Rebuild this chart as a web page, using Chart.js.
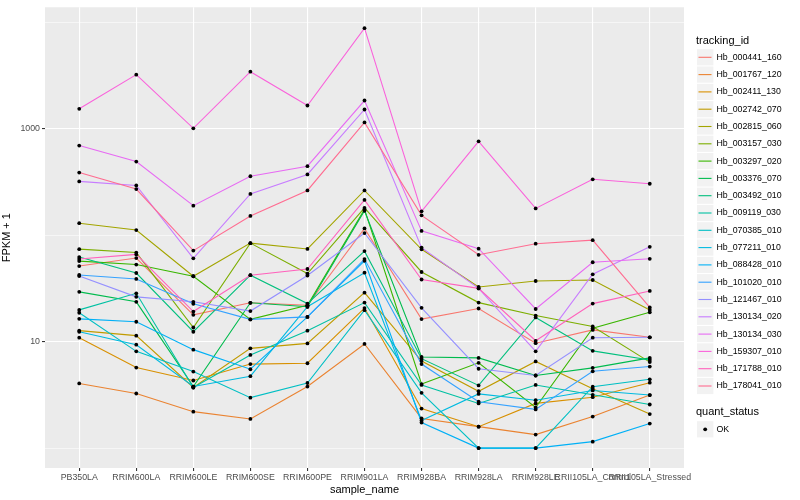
<!DOCTYPE html>
<html>
<head>
<meta charset="utf-8">
<script src="https://cdn.jsdelivr.net/npm/chart.js@4.4.1/dist/chart.umd.min.js"></script>
<style>
  html, body { margin: 0; padding: 0; background: #ffffff; }
  #wrap { width: 800px; height: 500px; }
</style>
</head>
<body>
<div id="wrap"><canvas id="myChart" width="800" height="500"></canvas></div>
<script>
// sample names on the x axis
const samples = ['PB350LA', 'RRIM600LA', 'RRIM600LE', 'RRIM600SE', 'RRIM600PE', 'RRIM901LA',
                 'RRIM928BA', 'RRIM928LA', 'RRIM928LE', 'RRII105LA_Control', 'RRII105LA_Stressed'];

// gene ids and their ggplot hue colours
const trackingIds = ['Hb_000441_160', 'Hb_001767_120', 'Hb_002411_130', 'Hb_002742_070', 'Hb_002815_060',
                     'Hb_003157_030', 'Hb_003297_020', 'Hb_003376_070', 'Hb_003492_010', 'Hb_009119_030',
                     'Hb_070385_010', 'Hb_077211_010', 'Hb_088428_010', 'Hb_101020_010', 'Hb_121467_010',
                     'Hb_130134_020', 'Hb_130134_030', 'Hb_159307_010', 'Hb_171788_010', 'Hb_178041_010'];
const lineColors = ['#F8766D', '#EA8331', '#D89000', '#C09B00', '#A3A500', '#7CAE00', '#39B600', '#00BB4E',
                    '#00BF7D', '#00C1A3', '#00BFC4', '#00BAE0', '#00B0F6', '#35A2FF', '#9590FF', '#C77CFF',
                    '#E76BF3', '#FA62DB', '#FF62BC', '#FF6C91'];

// FPKM + 1 per sample
const hb_000441_160 = [51.4, 61.1, 17.9, 23.2, 22.0, 116, 16.3, 20.5, 9.68, 12.9, 11.0];
const hb_001767_120 = [4.05, 3.26, 2.20, 1.88, 3.79, 9.52, 1.90, 1.59, 1.34, 1.98, 3.15];
const hb_002411_130 = [10.9, 5.71, 4.32, 6.16, 6.27, 20.7, 2.35, 1.59, 2.63, 3.01, 4.12];
const hb_002742_070 = [12.7, 11.4, 3.71, 8.66, 9.64, 28.9, 6.57, 3.42, 6.53, 3.62, 2.09];
const hb_002815_060 = [130, 112, 41.2, 84.4, 74.4, 264, 73.8, 32.7, 37.2, 38.0, 19.9];
const hb_003157_030 = [74.1, 68.8, 13.6, 84.4, 43.7, 181, 45.2, 23.3, 17.6, 13.9, 6.43];
const hb_003297_020 = [57.2, 53.1, 41.2, 16.2, 22.0, 175, 4.00, 6.33, 2.41, 13.4, 18.9];
const hb_003376_070 = [29.4, 23.7, 3.79, 23.2, 21.3, 170, 7.19, 7.04, 4.81, 5.68, 7.04];
const hb_003492_010 = [62.4, 44.2, 12.4, 42.2, 22.8, 71.0, 6.93, 3.88, 16.9, 8.20, 6.74];
const hb_009119_030 = [19.9, 28.5, 3.71, 7.51, 12.7, 23.3, 3.92, 2.63, 3.92, 3.17, 2.57];
const hb_070385_010 = [18.7, 8.11, 5.24, 2.98, 4.09, 19.8, 3.31, 1.00, 1.00, 3.78, 4.43];
const hb_077211_010 = [12.4, 9.37, 3.79, 4.74, 21.3, 44.5, 1.82, 3.23, 2.82, 3.48, 3.15];
const hb_088428_010 = [16.4, 15.4, 8.42, 5.51, 17.1, 57.6, 1.74, 1.00, 1.00, 1.15, 1.70];
const hb_101020_010 = [42.4, 38.9, 22.7, 16.2, 17.1, 59.8, 6.16, 2.73, 2.31, 5.27, 5.84];
const hb_121467_010 = [41.4, 26.4, 23.7, 19.4, 41.9, 105, 20.8, 5.57, 4.81, 10.9, 11.0];
const hb_130134_020 = [321, 294, 60.7, 245, 373, 1522, 76.6, 31.7, 8.11, 43.0, 77.9];
const hb_130134_030 = [697, 493, 190, 359, 446, 1848, 110, 74.9, 20.3, 55.8, 60.1];
const hb_159307_010 = [1545, 3236, 1012, 3451, 1660, 8850, 168, 764, 179, 336, 305];
const hb_171788_010 = [59.8, 66.1, 19.2, 42.2, 48.2, 215, 38.4, 31.7, 10.2, 22.8, 30.0];
const hb_178041_010 = [389, 272, 71.8, 152, 264, 1151, 154, 65.6, 83.4, 90.0, 21.0];

const seriesValues = [hb_000441_160, hb_001767_120, hb_002411_130, hb_002742_070, hb_002815_060,
                      hb_003157_030, hb_003297_020, hb_003376_070, hb_003492_010, hb_009119_030,
                      hb_070385_010, hb_077211_010, hb_088428_010, hb_101020_010, hb_121467_010,
                      hb_130134_020, hb_130134_030, hb_159307_010, hb_171788_010, hb_178041_010];

// y axis: grid lines and the labelled breaks
const yGridValues = [1, 10, 100, 1000, 10000];
const yLabelled = [10, 1000];

Chart.defaults.font.family = '"Liberation Sans", Arial, sans-serif';

// grey panel behind the plot
const panelBg = {
    id: 'panelBg',
    beforeDraw(chart) {
        const a = chart.chartArea;
        chart.ctx.save();
        chart.ctx.fillStyle = '#EBEBEB';
        chart.ctx.fillRect(a.left, a.top, a.right - a.left, a.bottom - a.top);
        chart.ctx.restore();
    }
};

// ggplot-like legend on the right
const ggLegend = {
    id: 'ggLegend',
    afterDraw(chart) {
        const ctx = chart.ctx;
        ctx.save();
        ctx.textBaseline = 'middle';
        ctx.textAlign = 'left';
        ctx.fillStyle = '#000';
        ctx.font = '11px "Liberation Sans", Arial, sans-serif';
        ctx.fillText('tracking_id', 696, 40.5);
        ctx.font = '8.8px "Liberation Sans", Arial, sans-serif';
        trackingIds.forEach(function(id, i) {
            const cy = 57.3 + i * 17.3;
            ctx.fillStyle = '#F2F2F2';
            ctx.fillRect(697, cy - 8.1, 16.4, 16.2);
            ctx.strokeStyle = lineColors[i];
            ctx.lineWidth = 1.1;
            ctx.beginPath();
            ctx.moveTo(698.5, cy);
            ctx.lineTo(711.5, cy);
            ctx.stroke();
            ctx.fillStyle = '#000';
            ctx.fillText(id, 716.5, cy);
        });
        ctx.font = '11px "Liberation Sans", Arial, sans-serif';
        ctx.fillText('quant_status', 696, 412.3);
        ctx.fillStyle = '#F2F2F2';
        ctx.fillRect(697, 421.2, 16.4, 16.2);
        ctx.fillStyle = '#000';
        ctx.beginPath();
        ctx.arc(705.2, 429.3, 1.9, 0, Math.PI * 2);
        ctx.fill();
        ctx.font = '8.8px "Liberation Sans", Arial, sans-serif';
        ctx.fillText('OK', 716.5, 429.3);
        ctx.restore();
    }
};

const lineSets = seriesValues.map(function(vals, i) {
    return {
        label: trackingIds[i],
        data: vals.map(function(v, j) { return { x: j, y: v }; }),
        borderColor: lineColors[i],
        backgroundColor: lineColors[i],
        borderWidth: 1.1,
        pointRadius: 0,
        tension: 0,
        fill: false,
        order: seriesValues.length - i + 1
    };
});

// all points in black, drawn above every line
const pointSet = {
    label: 'OK',
    data: seriesValues.flatMap(function(vals) {
        return vals.map(function(v, j) { return { x: j, y: v }; });
    }),
    showLine: false,
    pointRadius: 1.9,
    pointBackgroundColor: '#000',
    pointBorderWidth: 0,
    order: 0
};

const ctx = document.getElementById('myChart').getContext('2d');
const myChart = new Chart(ctx, {
    type: 'line',
    data: { datasets: lineSets.concat([pointSet]) },
    options: {
        responsive: false,
        animation: false,
        devicePixelRatio: 1,
        layout: { padding: { left: 0, right: 116, top: 5, bottom: 0 } },
        plugins: { legend: { display: false }, tooltip: { enabled: false } },
        scales: {
            x: {
                type: 'linear',
                min: -0.6,
                max: 10.6,
                afterBuildTicks: function(scale) {
                    scale.ticks = samples.map(function(s, i) { return { value: i }; });
                },
                afterFit: function(scale) { scale.height = 32; },
                ticks: {
                    autoSkip: false,
                    maxRotation: 0,
                    minRotation: 0,
                    padding: 1,
                    color: '#4D4D4D',
                    font: { size: 8.8 },
                    callback: function(v) { return samples[v]; }
                },
                grid: { color: '#FFFFFF', lineWidth: 1.1, tickColor: '#333333', tickLength: 3 },
                border: { display: false },
                title: { display: true, text: 'sample_name', color: '#000', font: { size: 11 }, padding: { top: 0, bottom: 3 } }
            },
            y: {
                type: 'logarithmic',
                min: 0.65,
                max: 13900,
                afterBuildTicks: function(scale) {
                    scale.ticks = yGridValues.map(function(v) { return { value: v }; });
                },
                afterFit: function(scale) { scale.width = 45; },
                ticks: {
                    autoSkip: false,
                    padding: 2,
                    color: '#4D4D4D',
                    font: { size: 8.8 },
                    callback: function(v) { return yLabelled.includes(v) ? String(v) : ''; }
                },
                grid: {
                    color: '#FFFFFF',
                    lineWidth: function(c) { return c.tick && yLabelled.includes(c.tick.value) ? 1.1 : 0.55; },
                    tickColor: function(c) { return c.tick && yLabelled.includes(c.tick.value) ? '#333333' : 'rgba(0,0,0,0)'; },
                    tickLength: 3
                },
                border: { display: false },
                title: { display: true, text: 'FPKM + 1', color: '#000', font: { size: 11 }, padding: { top: 0, bottom: 5 } }
            }
        }
    },
    plugins: [panelBg, ggLegend]
});
</script>
</body>
</html>
